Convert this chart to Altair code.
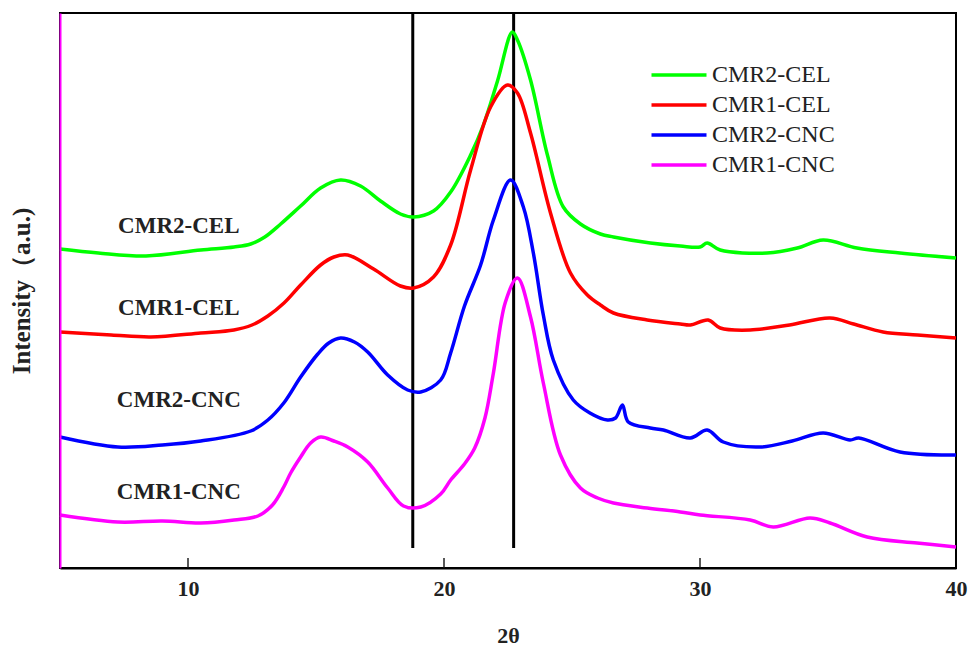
import altair as alt
import pandas as pd

series_names = ["CMR2-CEL", "CMR1-CEL", "CMR2-CNC", "CMR1-CNC"]
series_colors = ["#00ff00", "#ff0000", "#0000ff", "#ff00ff"]

cmr2_cel_2theta = [5, 6.5, 8.36, 10.5, 11.8, 12.45, 13.0, 13.62, 14.4, 15.18, 15.96, 16.74, 17.52, 18.3, 18.81,
                   19.59, 20.26, 21.04, 21.54, 22.09, 22.67, 22.87, 23.38, 24.04, 24.66, 25.33, 26.11, 26.62,
                   28.06, 29.23, 30.0, 30.28, 30.79, 32.62, 33.8, 34.81, 36.13, 37.81, 40]
cmr2_cel_int = [319, 315, 312, 318, 321, 324, 331, 344, 362, 380, 388, 382, 367, 354, 351,
                357, 376, 413, 443, 487, 536, 528, 488, 413, 361, 344, 334, 331,
                325, 322, 321, 325, 318, 315, 320, 328, 320, 315, 310]

cmr1_cel_2theta = [5, 7, 8.55, 10.5, 11.79, 12.5, 13.12, 13.75, 14.4, 15.18, 15.7, 16.24, 17.25, 18.3, 18.81,
                   19.59, 20.26, 21.04, 21.82, 22.48, 22.87, 23.38, 24.16, 24.94, 25.6, 26.11, 26.62, 27.94,
                   29.23, 29.62, 30.32, 30.79, 31.96, 33.5, 35.08, 36.0, 37.15, 38.5, 40]
cmr1_cel_int = [236, 233, 231, 235, 238, 243, 252, 265, 283, 303, 311, 313, 299, 282, 280,
                291, 323, 398, 461, 483, 475, 435, 355, 295, 273, 263, 255, 248,
                244, 243, 248, 240, 238, 243, 250, 244, 236, 233, 230]

cmr2_cnc_2theta = [5, 7.26, 9, 10.5, 12.45, 13.12, 13.74, 14.4, 15.07, 15.5, 15.96, 16.5, 17.02, 17.8, 18.58,
                   19.09, 19.87, 20.26, 20.8, 21.43, 21.93, 22.6, 23.1, 23.49, 23.88, 24.27, 25.05, 25.7,
                   26.38, 26.7, 26.97, 27.2, 28.06, 28.57, 29.62, 30.28, 30.91, 32.35, 33.6, 34.81, 35.86,
                   36.2, 37.81, 40]
cmr2_cnc_int = [131, 121, 123, 127, 137, 148, 165, 191, 214, 225, 230, 226, 216, 193, 178,
                176, 188, 215, 262, 303, 348, 388, 361, 315, 253, 208, 168, 155,
                148, 150, 163, 146, 140, 138, 130, 138, 126, 121, 127, 135, 128,
                130, 116, 113]

cmr1_cnc_2theta = [5, 7.26, 9, 10.5, 11.8, 12.73, 13.3, 13.74, 14.01, 14.4, 14.79, 15.18, 15.7, 16.24, 17.02,
                   17.8, 18.42, 19.09, 19.87, 20.26, 20.8, 21.2, 21.6, 21.93, 22.4, 22.87, 23.38, 23.88, 24.55,
                   25.33, 26.0, 26.62, 27.94, 29.23, 30.01, 31.96, 32.86, 34.3, 35.08, 36.53, 38.48, 40]
cmr1_cnc_int = [53, 46, 47, 45, 48, 52, 63, 81, 95, 111, 125, 131, 127, 121, 106,
                80, 62, 61, 74, 88, 104, 120, 150, 195, 266, 290, 251, 185, 113,
                80, 70, 65, 60, 56, 53, 48, 41, 50, 45, 31, 25, 21]

label_2theta = [9.64, 9.64, 9.64, 9.64]
label_int = [342, 260, 168, 76]

vline_2theta = [18.78, 22.72]
vline_low = [20, 20]
vline_high = [555, 555]

tick_values = [10, 20, 30, 40]
inner_ticks = [10, 20, 30]

series_x = [cmr2_cel_2theta, cmr1_cel_2theta, cmr2_cnc_2theta, cmr1_cnc_2theta]
series_y = [cmr2_cel_int, cmr1_cel_int, cmr2_cnc_int, cmr1_cnc_int]

rows = []
for name, xs, ys in zip(series_names, series_x, series_y):
    for a, b in zip(xs, ys):
        rows.append({"two_theta": a, "intensity": b, "sample": name})
df = pd.DataFrame(rows)

labels_df = pd.DataFrame({"two_theta": label_2theta, "intensity": label_int, "text": series_names})
vlines_df = pd.DataFrame({"two_theta": vline_2theta, "lo": vline_low, "hi": vline_high})
ticks_df = pd.DataFrame({"two_theta": inner_ticks, "lo": [0] * len(inner_ticks), "hi": [10] * len(inner_ticks)})

SERIF = "Liberation Serif"
x_scale = alt.Scale(domain=[5, 40], nice=False, zero=False)
y_scale = alt.Scale(domain=[0, 555], nice=False, zero=False)

x_axis = alt.Axis(values=tick_values, ticks=False, grid=False, domainColor="black", domainWidth=2,
                  labelFont=SERIF, labelFontWeight="bold", labelFontSize=22, labelColor="#222",
                  labelPadding=10, labelFlush=False, title="2θ", titleFont=SERIF, titleFontWeight="bold",
                  titleFontSize=22, titleColor="#222", titlePadding=26, zindex=1)
y_axis = alt.Axis(labels=False, ticks=False, grid=False, domainColor="#ff00ff", domainWidth=2,
                  title="Intensity（a.u.)", titleFont=SERIF, titleFontWeight="bold", titleFontSize=25,
                  titleColor="#222", titlePadding=26, zindex=1)

lines = alt.Chart(df).mark_line(strokeWidth=3.5, interpolate="catmull-rom").encode(
    x=alt.X("two_theta:Q", scale=x_scale, axis=x_axis),
    y=alt.Y("intensity:Q", scale=y_scale, axis=y_axis),
    color=alt.Color("sample:N", scale=alt.Scale(domain=series_names, range=series_colors),
                    legend=alt.Legend(title=None, orient="none", legendX=607, legendY=50,
                                      symbolType="M-2.75,0H2.75", symbolSize=400, symbolStrokeWidth=3.5,
                                      labelFont=SERIF, labelFontSize=24, labelColor="#222",
                                      labelOffset=21, rowPadding=6)),
)

vlines = alt.Chart(vlines_df).mark_rule(color="black", strokeWidth=3).encode(
    x=alt.X("two_theta:Q", scale=x_scale),
    y=alt.Y("lo:Q", scale=y_scale),
    y2="hi:Q",
)

ticks = alt.Chart(ticks_df).mark_rule(color="#222", strokeWidth=1.5).encode(
    x=alt.X("two_theta:Q", scale=x_scale),
    y=alt.Y("lo:Q", scale=y_scale),
    y2="hi:Q",
)

texts = alt.Chart(labels_df).mark_text(font=SERIF, fontWeight="bold", fontSize=23, color="#222").encode(
    x=alt.X("two_theta:Q", scale=x_scale),
    y=alt.Y("intensity:Q", scale=y_scale),
    text="text:N",
)

chart = alt.layer(vlines, lines, ticks, texts).properties(
    width=896, height=555,
    padding={"left": 60, "top": 13, "right": 12, "bottom": 79},
    autosize=alt.AutoSizeParams(type="none"),
    background="white",
).configure_view(stroke="black", strokeWidth=2)

chart.save("out.html", embed_options={"renderer": "svg", "actions": False})
